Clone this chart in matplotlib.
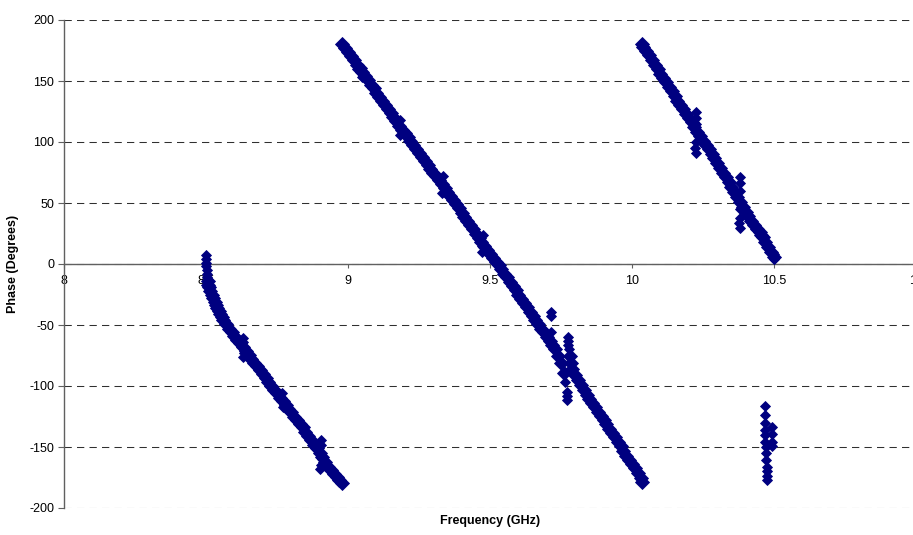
import matplotlib
matplotlib.use("Agg")
import matplotlib.pyplot as plt
from matplotlib.ticker import FormatStrFormatter

# phase sweep: three wrapped branches
seg1_freq = [8.506, 8.508, 8.51, 8.515, 8.52, 8.525, 8.53, 8.535, 8.54, 8.545,
             8.55, 8.555, 8.56, 8.57, 8.58, 8.59, 8.60, 8.61, 8.62, 8.63,
             8.64, 8.65, 8.66, 8.67, 8.68, 8.69, 8.70, 8.71, 8.72, 8.73,
             8.74, 8.75, 8.76, 8.77, 8.78, 8.79, 8.80, 8.81, 8.82, 8.83,
             8.84, 8.85, 8.86, 8.87, 8.88, 8.89, 8.90, 8.91, 8.92, 8.93,
             8.94, 8.95, 8.96, 8.97, 8.98]
seg1_phase = [-14, -17, -19, -22, -25, -28, -31, -33.5, -36, -38.5,
              -41, -43.5, -45.5, -49.5, -53, -56, -59, -62, -65, -68,
              -71, -74.5, -78, -81, -84, -87, -90, -93.5, -97, -100,
              -103, -106, -109.5, -112.5, -115.5, -118.5, -121.5, -125, -128, -131,
              -134, -138, -141, -144.5, -148, -151, -155, -158, -162, -166,
              -169, -172, -174.5, -177, -179.5]

seg2_freq = [8.98, 8.99, 9.00, 9.01, 9.02, 9.03, 9.04, 9.05, 9.06, 9.07,
             9.08, 9.09, 9.10, 9.11, 9.12, 9.13, 9.14, 9.15, 9.16, 9.17,
             9.18, 9.19, 9.20, 9.21, 9.22, 9.23, 9.24, 9.25, 9.26, 9.27,
             9.28, 9.29, 9.30, 9.31, 9.32, 9.33, 9.34, 9.35, 9.36, 9.37,
             9.38, 9.39, 9.40, 9.41, 9.42, 9.43, 9.44, 9.45, 9.46, 9.47,
             9.48, 9.49, 9.50, 9.51, 9.52, 9.53, 9.54, 9.55, 9.56, 9.57,
             9.58, 9.59, 9.60, 9.61, 9.62, 9.63, 9.64, 9.65, 9.66, 9.67,
             9.68, 9.69, 9.70, 9.71, 9.72, 9.73, 9.74, 9.75, 9.76, 9.78,
             9.785, 9.79, 9.80, 9.81, 9.82, 9.83, 9.84, 9.85, 9.86, 9.87,
             9.88, 9.89, 9.90, 9.91, 9.92, 9.93, 9.94, 9.95, 9.96, 9.97,
             9.98, 9.99, 10.00, 10.01, 10.02, 10.03, 10.035]
seg2_phase = [180, 177, 174, 170.5, 167, 163.5, 160, 157, 154, 150.5,
              147, 144, 140.5, 137, 134, 130.5, 127, 124, 120.5, 117,
              113.5, 110, 107, 104, 100.5, 97.5, 94, 91, 88, 84.5,
              81.5, 78, 75, 72, 68.5, 65.5, 62, 59, 55.5, 52.5,
              49, 45.5, 42, 38.5, 35.5, 32, 28.5, 25, 21.5, 18,
              15, 11.5, 8.5, 5, 2, -1, -4.5, -8, -11, -14.5,
              -18, -21.5, -25, -28.5, -32, -35.5, -39, -42.5, -46, -49.5,
              -53, -56, -59.5, -63, -66, -70, -75, -81, -89, -75,
              -81, -86, -91, -95, -99, -103, -107, -110.5, -114, -117.5,
              -121, -124.5, -128, -131.5, -135, -138.5, -142, -146, -149.5, -153,
              -157, -160.5, -164, -167.5, -171.5, -175, -178.5]

seg3_freq = [10.035, 10.04, 10.05, 10.06, 10.07, 10.08, 10.09, 10.10, 10.11, 10.12,
             10.13, 10.14, 10.15, 10.16, 10.17, 10.18, 10.19, 10.20, 10.21, 10.22,
             10.23, 10.24, 10.25, 10.26, 10.27, 10.28, 10.29, 10.30, 10.31, 10.32,
             10.33, 10.34, 10.35, 10.36, 10.37, 10.38, 10.39, 10.40, 10.41, 10.42,
             10.43, 10.44, 10.45, 10.455, 10.46, 10.47, 10.48, 10.49, 10.50]
seg3_phase = [180, 178, 174.5, 171, 167, 163.5, 160, 156, 152.5, 149,
              145, 141.5, 138, 134, 130.5, 127, 123, 119.5, 116, 112,
              108.5, 105, 101, 97.5, 94, 90, 86.5, 82.5, 78.5, 75,
              71, 67, 63, 59, 55, 51, 47, 43, 39, 35.5,
              32, 29, 26, 24, 22, 18, 14, 10, 6]

# glitch points sticking out of the branches, and the stray group near 10.47 GHz
spike_freq = [8.500, 8.500, 8.500, 8.501, 8.502, 8.503, 8.504,
              8.63, 8.632, 8.634, 8.632, 8.768, 8.772,
              8.905, 8.905, 8.907, 8.905, 8.903,
              9.05, 9.05, 9.182, 9.184, 9.332, 9.334, 9.472, 9.474, 9.476,
              9.715, 9.715, 9.716, 9.765, 9.77, 9.771, 9.772,
              9.775, 9.775, 9.776, 9.777,
              10.224, 10.225, 10.226, 10.224, 10.222, 10.224,
              10.381, 10.381, 10.382, 10.379, 10.38, 10.378, 10.379, 10.50, 10.50,
              10.468, 10.468, 10.468, 10.469, 10.470, 10.470, 10.471, 10.472, 10.473,
              10.474, 10.475, 10.476, 10.476, 10.492, 10.493, 10.492, 10.494]
spike_phase = [7, 4, 1, -2, -5, -8, -11,
               -61, -64, -73, -76, -106, -117,
               -144, -148, -160, -165, -168,
               153, 161, 106, 118, 58, 72, 10, 14, 24,
               -39, -43, -56, -97, -105, -108, -111.5,
               -60, -63, -66, -70,
               124.5, 120, 115, 100, 95, 91,
               71.5, 66, 60, 45, 38, 34, 29.5, 4, 8,
               -116.5, -124, -130.5, -136, -140, -145.5, -150, -155, -160.5,
               -166, -170, -174, -177, -134, -139, -145.5, -149.5]

x_ticks = [8, 8.5, 9, 9.5, 10, 10.5, 11]
y_ticks = [-200, -150, -100, -50, 0, 50, 100, 150, 200]

plt.rcParams['font.family'] = ['Liberation Sans', 'DejaVu Sans']
plt.rcParams['axes.unicode_minus'] = False

fig = plt.figure(figsize=(9.13, 5.35), dpi=100)
# plot area runs past the right edge of the image, as in the reference
ax = fig.add_axes([64 / 913, 27 / 535, 852 / 913, 488 / 535])

for f, p in [(seg1_freq, seg1_phase), (seg2_freq, seg2_phase),
             (seg3_freq, seg3_phase)]:
    ax.plot(f, p, linestyle='none', marker='D', ms=7.5, mew=0.6,
            color='#000080', zorder=3, clip_on=False)
ax.plot(spike_freq, spike_phase, linestyle='none', marker='D', ms=4.6,
        mew=0.6, color='#000080', zorder=3, clip_on=False)

ax.set_xlim(8, 11)
ax.set_ylim(-200, 200)
ax.set_xticks(x_ticks)
ax.set_yticks(y_ticks)
ax.xaxis.set_major_formatter(FormatStrFormatter('%g'))

ax.spines['top'].set_visible(False)
ax.spines['right'].set_visible(False)
ax.spines['bottom'].set_position(('data', 0))
for s in ('left', 'bottom'):
    ax.spines[s].set_color('#606060')
    ax.spines[s].set_linewidth(1.0)

ax.yaxis.grid(True, linestyle=(0, (7, 5)), color='#303030', linewidth=0.75)
ax.set_axisbelow(True)
ax.tick_params(axis='x', direction='out', length=3, pad=5, labelsize=9,
               color='#606060')
ax.tick_params(axis='y', direction='out', length=4, pad=3, labelsize=9,
               color='#606060')

fig.text(490 / 913, 14 / 535, 'Frequency (GHz)', ha='center', va='center',
         fontsize=9, fontweight='bold')
fig.text(13 / 913, 271 / 535, 'Phase (Degrees)', ha='center', va='center',
         rotation=90, fontsize=9, fontweight='bold')

fig.savefig('out.png', dpi=100)
